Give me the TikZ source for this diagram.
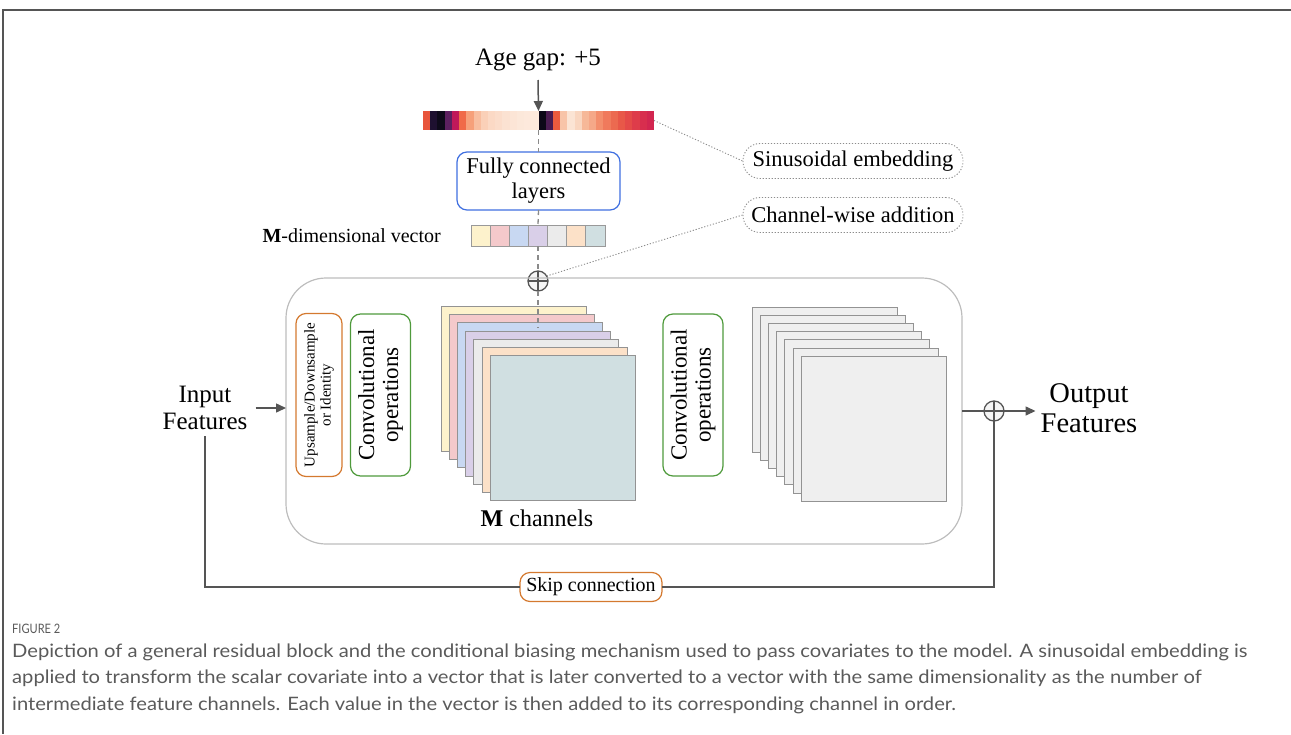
\documentclass[tikz,border=0pt]{standalone}
\usepackage{fontspec}
\setmainfont{Liberation Serif}
\newfontfamily\dg{Liberation Serif}
\newfontfamily\capfont[FakeStretch=1.09]{Lato}
\newfontfamily\figfont[FakeStretch=0.85]{Lato}
\usetikzlibrary{arrows.meta}
\definecolor{lineg}{HTML}{555555}
\definecolor{dashg}{HTML}{8A8A8A}
\definecolor{dotg}{HTML}{8C8C8C}
\definecolor{mainb}{HTML}{BDBDBD}
\definecolor{fcblue}{HTML}{3F6FE0}
\definecolor{orng}{HTML}{D4792F}
\definecolor{grn}{HTML}{4F9A3C}
\definecolor{chy}{HTML}{FDF2CC}
\definecolor{chp}{HTML}{F4C9CB}
\definecolor{chb}{HTML}{C8D8F2}
\definecolor{chl}{HTML}{D9CFE8}
\definecolor{chg}{HTML}{EBEBEB}
\definecolor{cho}{HTML}{FCE1C8}
\definecolor{cht}{HTML}{D0DFE1}
\definecolor{rgray}{HTML}{EFEFEF}
\definecolor{capg}{HTML}{5A5A5A}
\begin{document}
\begin{tikzpicture}[x=1pt,y=-1pt,
  line/.style={draw=lineg, line width=1.5pt},
  arr/.style={line, -{Triangle[length=10pt,width=9pt]}},
  dashl/.style={draw=dashg, line width=1.3pt, dash pattern=on 5pt off 4pt},
  dotl/.style={draw=dotg, line width=0.9pt, dash pattern=on 1.2pt off 1.8pt},
  rbox/.style={rectangle, rounded corners=10pt, line width=1.2pt, inner sep=0pt, outer sep=0pt, align=center},
  dotbox/.style={rectangle, rounded corners=17pt, draw=dotg, line width=0.9pt, dash pattern=on 1.2pt off 1.8pt, inner sep=0pt, minimum width=220pt, minimum height=35pt, font=\dg\fontsize{22.5}{26}\selectfont},
  cell/.style={rectangle, draw=gray!80, line width=0.8pt, minimum width=19.14pt, minimum height=21pt, inner sep=0pt, outer sep=0pt},
  chan/.style={rectangle, draw=gray!85, line width=1pt, minimum width=145pt, minimum height=145pt, inner sep=0pt, outer sep=0pt},
  oplus/.style={circle, draw=lineg, line width=1.3pt, minimum size=20pt, inner sep=0pt, outer sep=0pt, fill=white!92!gray,
    path picture={\draw[lineg, line width=1.1pt] (path picture bounding box.north) -- (path picture bounding box.south) (path picture bounding box.west) -- (path picture bounding box.east);}},
  txt/.style={inner sep=0pt, align=center},
  capline/.style={anchor=base west, inner sep=0pt, text=capg, font=\capfont\fontsize{18.5}{21}\selectfont}
]
\path[use as bounding box] (0,0) rectangle (1291,734);
% frame
\draw[lineg, line width=1.5pt] (1291,10) -- (3,10) -- (3,734);

% title and arrow
\node[txt, font=\dg\fontsize{25}{29}\selectfont] (age) at (538,60) {Age gap: +5};
\coordinate (arrtop) at (538,80);

% embedding bar
\node[rectangle, minimum width=231pt, minimum height=19pt, inner sep=0pt, outer sep=0pt] (bar) at (538.5,120.5) {};
\foreach \c [count=\i from 0] in {E8553C,1E1030,0E0A1A,5C2060,C0185A,F06A48,F6A07A,F8BEA0,FAD0B8,FBD9C5,FBDDCB,FBE2D2,FCE5D6,FCE8DA,FDE9DC,FDEADD,0C0818,4A1C52,EC5A3E,F8C4A8,FBE4D4,F9D6C0,F6B898,F5A888,F38E6C,F07A5C,EC6A50,E85848,E44A48,DE3C4A,D82E4E,D22650}{
  \definecolor{tmpc}{HTML}{\c}
  \fill[tmpc] (423+7.21875*\i,111) rectangle ++(7.3,19);
}
\draw[arr] (arrtop) -- (bar.north);

% fully connected
\node[rbox, draw=fcblue, minimum width=163pt, minimum height=58pt, font=\dg\fontsize{22.5}{25}\selectfont] (fc) at (538.5,181) {Fully connected\\layers};

% M-dimensional vector
\node[rectangle, minimum width=134pt, minimum height=21pt, inner sep=0pt, outer sep=0pt] (vec) at (538,235.5) {};
\foreach \c [count=\i from 0] in {chy,chp,chb,chl,chg,cho,cht}{
  \node[cell, fill=\c] (v\i) at (480.57+19.14*\i,235.5) {};
}
\node[txt, anchor=east, font=\dg\fontsize{20}{24}\selectfont] (mlab) at (441,236) {\textbf{M}-dimensional vector};

% plus
\node[oplus] (plus) at (538,281) {};

% dashed vertical
\draw[dashl] (bar.south) -- (fc.north);
\draw[dashl] (fc.south) -- (vec.north);
\draw[dashl] (vec.south) -- (plus.north);

% labels with dotted
\node[dotbox] (sin) at (853,161) {Sinusoidal embedding};
\node[dotbox] (cw) at (853,215) {Channel-wise addition};
\draw[dotl] (bar.east) -- (sin.west);
\draw[dotl] (plus.30) -- (cw.west);

% main box
\node[rectangle, rounded corners=40pt, draw=mainb, line width=1.2pt, minimum width=676pt, minimum height=266pt, inner sep=0pt, outer sep=0pt] (main) at (624,411) {};

% inner boxes
\node[rbox, draw=orng, rotate=90, minimum width=163pt, minimum height=46pt, font=\dg\fontsize{15}{16}\selectfont] (up) at (319,395) {Upsample/Downsample\\or Identity};
\node[rbox, draw=grn, rotate=90, minimum width=162pt, minimum height=60pt, font=\dg\fontsize{23}{24}\selectfont] (conv1) at (380.5,395) {Convolutional\\operations};
\node[rbox, draw=grn, rotate=90, minimum width=162pt, minimum height=60pt, font=\dg\fontsize{23}{24}\selectfont] (conv2) at (693,395) {Convolutional\\operations};

% M channels stack
\foreach \c [count=\i from 0] in {chy,chp,chb,chl,chg,cho,cht}{
  \node[chan, fill=\c] (ch\i) at (513.5+8.2*\i,379+8.2*\i) {};
}
\coordinate (dashend) at (538,328);
\draw[dashl] (plus.south) -- (dashend);
\node[txt, font=\dg\fontsize{24}{28}\selectfont] (mch) at (537,518) {\textbf{M} channels};

% right stack
\foreach \i in {0,...,6}{
  \node[chan, fill=rgray] (rc\i) at (824.5+8.2*\i,379.5+8.2*\i) {};
}

% input / output
\node[align=center, inner xsep=8pt, inner ysep=6pt, font=\dg\fontsize{25}{27}\selectfont] (inp) at (205,408) {Input\\Features};
\draw[arr] (inp.east) -- (inp.east -| main.west);
\node[oplus] (oplus) at (994,411) {};
\node[align=center, inner xsep=5pt, inner ysep=2pt, font=\dg\fontsize{28.5}{30}\selectfont] (out) at (1089,408) {Output\\Features};
\draw[line] (main.east |- oplus) -- (oplus.west);
\draw[arr] (oplus.east) -- (oplus.east -| out.west);

% skip
\node[rbox, draw=orng, fill=white, minimum width=142pt, minimum height=29pt, font=\dg\fontsize{20}{24}\selectfont] (skip) at (591,587) {Skip connection};
\draw[line] (inp.south) |- (skip.west);
\draw[line] (skip.east) -| (oplus.south);

% caption
\node[anchor=base west, inner sep=0pt, text=capg, font=\figfont\fontsize{13}{15}\selectfont] (fig) at (12,633) {FIGURE 2};
\node[capline] (cap1) at (12,657) {Depiction of a general residual block and the conditional biasing mechanism used to pass covariates to the model. A sinusoidal embedding is};
\node[capline] (cap2) at (12,683.5) {applied to transform the scalar covariate into a vector that is later converted to a vector with the same dimensionality as the number of};
\node[capline] (cap3) at (12,710) {intermediate feature channels. Each value in the vector is then added to its corresponding channel in order.};
\end{tikzpicture}
\end{document}
